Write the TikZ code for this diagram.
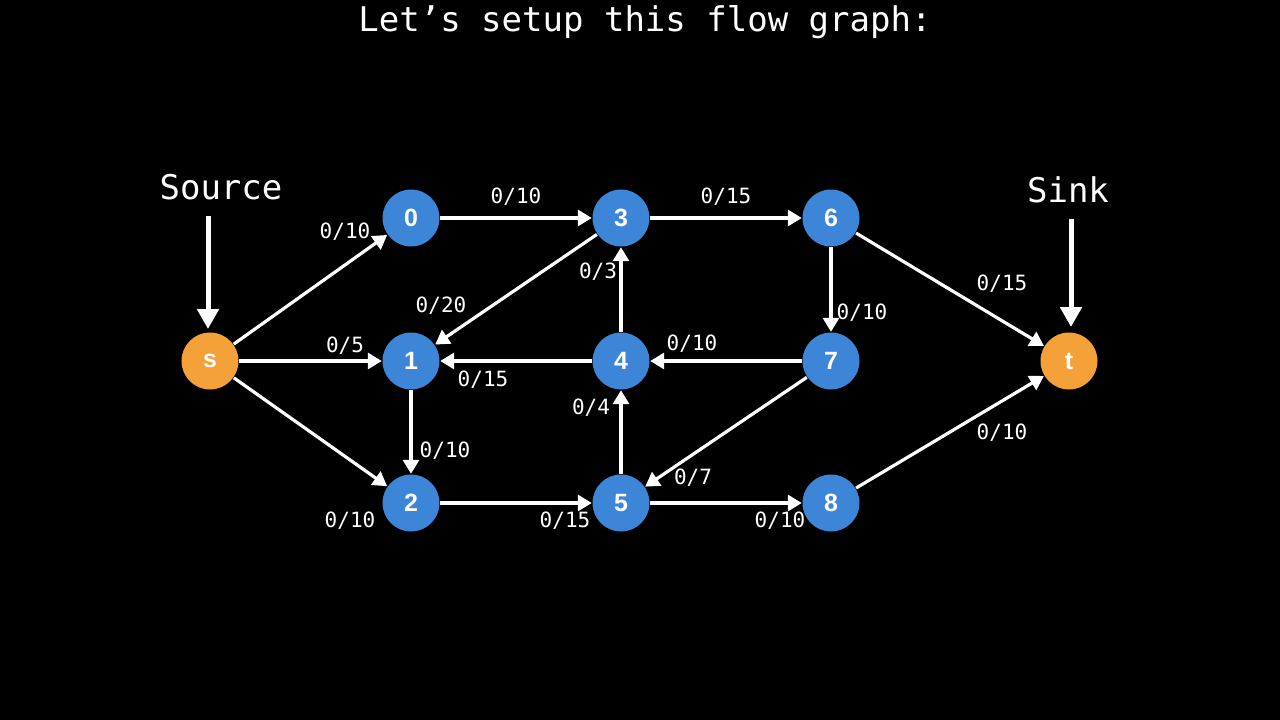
\documentclass[tikz,border=0pt]{standalone}
\usepackage{fontspec}
\setmonofont{DejaVu Sans Mono}
\newfontfamily\nodefont{Liberation Sans}
\usetikzlibrary{arrows.meta}
\definecolor{nblue}{RGB}{61,133,214}
\definecolor{norange}{RGB}{245,161,58}
\tikzset{
  vtx/.style={circle,fill=nblue,minimum size=57pt,inner sep=0pt,text=white,font=\nodefont\bfseries\fontsize{25}{25}\selectfont},
  endv/.style={vtx,fill=norange},
  edge/.style={draw=white,line width=3.2pt,-{Triangle[length=14pt,width=16pt]},shorten >=0.5pt,shorten <=0.5pt},
  bigedge/.style={draw=white,line width=5pt,-{Triangle[length=20pt,width=21pt]}},
  lbl/.style={text=white,font=\ttfamily\fontsize{21}{21}\selectfont,inner sep=0pt},
  big/.style={text=white,font=\ttfamily\fontsize{34}{34}\selectfont,inner sep=0pt}
}
\begin{document}
\begin{tikzpicture}[x=1pt,y=-1pt]
\fill[black] (0,0) rectangle (1280,720);
\useasboundingbox (0,0) rectangle (1280,720);
\node[big] (title) at (645,22) {Let’s setup this flow graph:};
\node[big] (src) at (221,187) {Source};
\node[big] (snk) at (1068,190) {Sink};
\node[endv] (s) at (210,361) {s};
\node[endv] (t) at (1069,361) {t};
\node[vtx] (n0) at (411,218) {0};
\node[vtx] (n1) at (411,361) {1};
\node[vtx] (n2) at (411,503) {2};
\node[vtx] (n3) at (621,218) {3};
\node[vtx] (n4) at (621,361) {4};
\node[vtx] (n5) at (621,503) {5};
\node[vtx] (n6) at (831,218) {6};
\node[vtx] (n7) at (831,361) {7};
\node[vtx] (n8) at (831,503) {8};
\coordinate (srcA) at (208,216);
\coordinate (srcB) at (208,329);
\coordinate (snkA) at (1071,219);
\coordinate (snkB) at (1071,327);
\draw[bigedge] (srcA) -- (srcB);
\draw[bigedge] (snkA) -- (snkB);
\draw[edge] (s) -- (n0);
\draw[edge] (s) -- (n1);
\draw[edge] (s) -- (n2);
\draw[edge] (n0) -- (n3);
\draw[edge] (n3) -- (n1);
\draw[edge] (n4) -- (n1);
\draw[edge] (n1) -- (n2);
\draw[edge] (n4) -- (n3);
\draw[edge] (n2) -- (n5);
\draw[edge] (n5) -- (n4);
\draw[edge] (n3) -- (n6);
\draw[edge] (n7) -- (n4);
\draw[edge] (n7) -- (n5);
\draw[edge] (n6) -- (n7);
\draw[edge] (n5) -- (n8);
\draw[edge] (n6) -- (t);
\draw[edge] (n8) -- (t);
\node[lbl] (l1) at (345,232) {0/10};
\node[lbl] (l2) at (345,346) {0/5};
\node[lbl] (l3) at (350,521) {0/10};
\node[lbl] (l4) at (516,197) {0/10};
\node[lbl] (l5) at (441,306) {0/20};
\node[lbl] (l6) at (483,380) {0/15};
\node[lbl] (l7) at (445,451) {0/10};
\node[lbl] (l8) at (598,272) {0/3};
\node[lbl] (l9) at (565,521) {0/15};
\node[lbl] (l10) at (591,408) {0/4};
\node[lbl] (l11) at (726,197) {0/15};
\node[lbl] (l12) at (692,344) {0/10};
\node[lbl] (l13) at (693,478) {0/7};
\node[lbl] (l14) at (862,313) {0/10};
\node[lbl] (l15) at (780,521) {0/10};
\node[lbl] (l16) at (1002,284) {0/15};
\node[lbl] (l17) at (1002,433) {0/10};
\end{tikzpicture}
\end{document}
